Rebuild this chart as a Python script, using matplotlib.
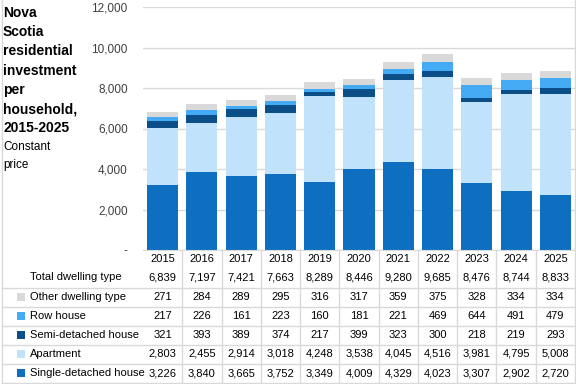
import matplotlib.pyplot as plt
import numpy as np
from matplotlib.ticker import FuncFormatter
from matplotlib.patches import Rectangle
from matplotlib.lines import Line2D

years = ["2015", "2016", "2017", "2018", "2019", "2020", "2021", "2022", "2023", "2024", "2025"]
single_detached = [3226, 3840, 3665, 3752, 3349, 4009, 4329, 4023, 3307, 2902, 2720]
apartment = [2803, 2455, 2914, 3018, 4248, 3538, 4045, 4516, 3981, 4795, 5008]
semi_detached = [321, 393, 389, 374, 217, 399, 323, 300, 218, 219, 293]
row_house = [217, 226, 161, 223, 160, 181, 221, 469, 644, 491, 479]
other = [271, 284, 289, 295, 316, 317, 359, 375, 328, 334, 334]
total = [6839, 7197, 7421, 7663, 8289, 8446, 9280, 9685, 8476, 8744, 8833]

series = [
    ("Single-detached house", single_detached, "#0E6EC0"),
    ("Apartment", apartment, "#C0E2FB"),
    ("Semi-detached house", semi_detached, "#0B4E88"),
    ("Row house", row_house, "#44ABF4"),
    ("Other dwelling type", other, "#D9D9D9"),
]

title_lines = ["Nova", "Scotia", "residential", "investment", "per", "household,", "2015-2025"]
subtitle_lines = ["Constant", "price"]

plt.rcParams["font.family"] = ["Liberation Sans", "DejaVu Sans"]

W, H = 576, 384
fig = plt.figure(figsize=(W / 100, H / 100), dpi=100)

# axes in pixel coords
x0, x1, y_top, y_bot = 143, 575, 7, 250
ax = fig.add_axes([x0 / W, 1 - y_bot / H, (x1 - x0) / W, (y_bot - y_top) / H])

x = np.arange(len(years))
bottom = np.zeros(len(years))
for name, vals, col in series:
    ax.bar(x, vals, 0.79, bottom=bottom, color=col, zorder=2)
    bottom += np.array(vals)

ax.set_xlim(-0.5, len(years) - 0.5)
ax.set_ylim(0, 12000)
ax.set_yticks(np.arange(0, 12001, 2000))
ax.yaxis.set_major_formatter(FuncFormatter(lambda v, p: "-" if v == 0 else f"{v:,.0f}"))
ax.tick_params(axis="y", length=0, pad=11, labelsize=8.5, labelcolor="#404040")
ax.set_xticks([])
ax.grid(axis="y", color="#D9D9D9", linewidth=1, zorder=0)
for s in ["top", "right", "left"]:
    ax.spines[s].set_visible(False)
ax.spines["bottom"].set_color("#D9D9D9")


def fy(py):
    return 1 - py / H


# title, one line at a time
for k, line in enumerate(title_lines):
    fig.text(3 / W, fy(13 + k * 19.2), line, fontsize=10, fontweight="bold",
             va="center", ha="left", color="#000000")
for k, line in enumerate(subtitle_lines):
    fig.text(3 / W, fy(147 + k * 17.5), line, fontsize=8.5,
             va="center", ha="left", color="#000000")

line_col = "#D9D9D9"
col_w = (x1 - x0) / W / len(years)
tfs = 8
# year row
for i, yr in enumerate(years):
    fig.text(x0 / W + (i + 0.5) * col_w, fy(259), yr,
             ha="center", va="center", fontsize=tfs, color="#000000")

rows = [("Total dwelling type", total, None)] + [(n, v, c) for n, v, c in series[::-1]]
row_y = [277, 297, 316, 335, 354, 373]
for (name, vals, col), py in zip(rows, row_y):
    if col is not None:
        fig.patches.append(Rectangle((17 / W, fy(py + 4)), 8 / W, 8 / H, transform=fig.transFigure,
                                     facecolor=col, edgecolor="none"))
    fig.text(30 / W, fy(py), name, ha="left", va="center", fontsize=tfs, color="#000000")
    for i, v in enumerate(vals):
        fig.text(x0 / W + (i + 0.5) * col_w, fy(py), f"{v:,}",
                 ha="center", va="center", fontsize=tfs, color="#000000")

# horizontal lines of table
for py in [288, 307, 326, 345, 364, 383]:
    fig.lines.append(Line2D([2 / W, 575 / W], [fy(py), fy(py)], transform=fig.transFigure,
                            color=line_col, linewidth=1))
# vertical lines of table
for i in range(1, len(years)):
    xx = x0 / W + i * col_w
    fig.lines.append(Line2D([xx, xx], [fy(250), fy(383)], transform=fig.transFigure,
                            color=line_col, linewidth=1))
# chart frame
fig.lines.append(Line2D([2 / W, 2 / W], [fy(0), fy(383)], transform=fig.transFigure, color=line_col, linewidth=1))
fig.lines.append(Line2D([575 / W, 575 / W], [fy(0), fy(383)], transform=fig.transFigure, color=line_col, linewidth=1))

fig.savefig("out.png", dpi=100)
